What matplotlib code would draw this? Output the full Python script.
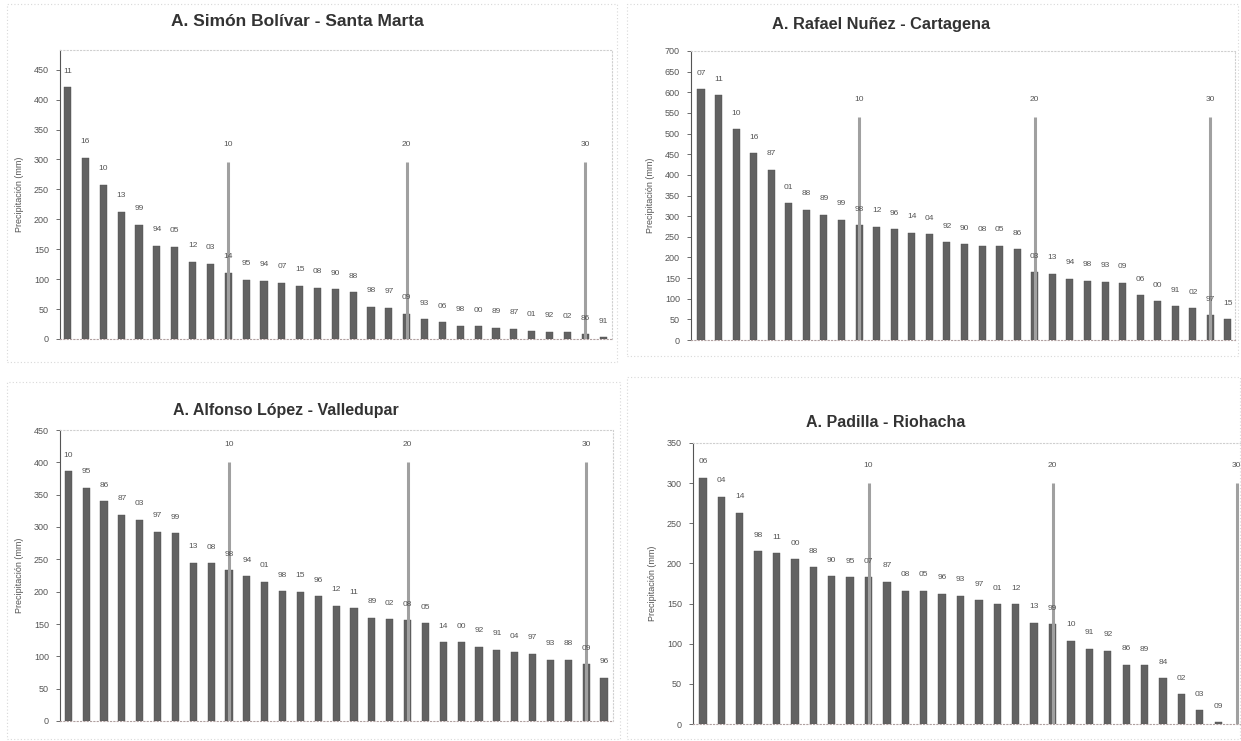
"""
Precipitation ranking by year at four Caribbean airports (Colombia).
"""

import matplotlib
matplotlib.use('Agg')
import matplotlib.pyplot as plt
from matplotlib.patches import Rectangle

plt.rcParams['font.family'] = ['Liberation Sans', 'DejaVu Sans']

# --- data ---
sm_years = ['11', '16', '10', '13', '99', '94', '05', '12', '03', '14', '95', '94', '07', '15', '08', '90',
            '88', '98', '97', '09', '93', '06', '98', '00', '89', '87', '01', '92', '02', '86', '91']
sm_vals = [421, 303, 258, 213, 191, 156, 154, 129, 126, 111, 99, 97, 94, 89, 86, 83,
           78, 54, 52, 42, 33, 28, 22, 21, 19, 17, 14, 12, 11, 8, 3]

ct_years = ['07', '11', '10', '16', '87', '01', '88', '89', '99', '98', '12', '96', '14', '04', '92', '90',
            '08', '05', '86', '03', '13', '94', '98', '93', '09', '06', '00', '91', '02', '97', '15']
ct_vals = [607, 593, 510, 453, 412, 331, 316, 303, 291, 278, 274, 268, 260, 256, 237, 232,
           228, 228, 220, 164, 161, 148, 144, 141, 139, 109, 94, 82, 77, 60, 50]

vd_years = ['10', '95', '86', '87', '03', '97', '99', '13', '08', '98', '94', '01', '98', '15', '96', '12',
            '11', '89', '02', '08', '05', '14', '00', '92', '91', '04', '97', '93', '88', '09', '96']
vd_vals = [386, 361, 340, 319, 311, 293, 290, 245, 244, 233, 224, 215, 201, 200, 193, 178,
           174, 160, 157, 156, 151, 122, 122, 115, 110, 106, 104, 95, 95, 88, 67]

rh_years = ['06', '04', '14', '98', '11', '00', '88', '90', '95', '07', '87', '08', '05', '96', '93',
            '97', '01', '12', '13', '99', '10', '91', '92', '86', '89', '84', '02', '03', '09']
rh_vals = [307, 283, 263, 215, 213, 205, 195, 184, 183, 183, 177, 166, 166, 162, 160,
           154, 149, 149, 126, 124, 104, 94, 91, 74, 73, 57, 37, 17, 2]

ref_pos = [10, 20, 30]
ref_labels = ['10', '20', '30']
ref_height = {'sm': 295, 'ct': 540, 'vd': 400, 'rh': 300}

titles = {'sm': 'A. Simón Bolívar - Santa Marta',
          'ct': 'A. Rafael Nuñez - Cartagena',
          'vd': 'A. Alfonso López - Valledupar',
          'rh': 'A. Padilla - Riohacha'}

W, H = 1241, 741
fig = plt.figure(figsize=(W / 100, H / 100), dpi=100)
fig.patch.set_facecolor('white')


def px_axes(left, top, right, bottom):
    return fig.add_axes([left / W, 1 - bottom / H, (right - left) / W, (bottom - top) / H])


def frame(left, top, right, bottom):
    # faint dotted chart-area border
    fig.add_artist(Rectangle((left / W, 1 - bottom / H), (right - left) / W, (bottom - top) / H,
                             transform=fig.transFigure, fill=False, edgecolor='#d8d8d8',
                             linestyle=(0, (1, 2)), linewidth=0.8))


def panel(ax, years, vals, key, ymax, ystep, xlim, yticks_top):
    x = list(range(1, len(vals) + 1))
    ax.bar(x, vals, width=0.4, color='#626262', edgecolor='#4e4e4e', linewidth=0.3, zorder=2)
    ax.vlines(ref_pos, 0, ref_height[key], color='#a0a0a0', linewidth=2.2, zorder=3)
    for xi, v, yr in zip(x, vals, years):
        ax.annotate(yr, (xi, v), xytext=(0, 11.5), textcoords='offset points',
                    ha='center', va='center', fontsize=6, color='#555555', zorder=4)
    for p, lab in zip(ref_pos, ref_labels):
        ax.annotate(lab, (p, ref_height[key]), xytext=(0, 13), textcoords='offset points',
                    ha='center', va='center', fontsize=6, color='#555555', zorder=4)
    ax.set_xlim(*xlim)
    ax.set_ylim(0, ymax)
    ax.set_yticks(range(0, yticks_top + 1, ystep))
    ax.set_xticks([])
    ax.tick_params(axis='y', labelsize=6.5, colors='#555555', length=3, width=0.6, pad=5)
    ax.set_ylabel('Precipitación (mm)', fontsize=6.5, color='#555555', labelpad=7)
    for s in ['top', 'right']:
        ax.spines[s].set_color('#cfcfcf')
        ax.spines[s].set_linestyle((0, (1, 2)))
        ax.spines[s].set_linewidth(0.8)
    ax.spines['left'].set_color('#555555')
    ax.spines['left'].set_linewidth(0.8)
    ax.spines['bottom'].set_color('#b0a0a0')
    ax.spines['bottom'].set_linestyle((0, (1, 2)))
    ax.spines['bottom'].set_linewidth(0.8)
    ax.set_facecolor('none')


# outer chart borders
frame(7, 4, 617, 362)
frame(627, 4, 1238, 356)
frame(7, 382, 620, 739)
frame(627, 377, 1240, 739)

# Santa Marta
ax1 = px_axes(60, 50, 612, 339)
panel(ax1, sm_years, sm_vals, 'sm', 483, 50, (0.57, 31.5), 450)
fig.text(297 / W, 1 - 22 / H, titles['sm'], ha='center', va='center', fontsize=12.5,
         fontweight='bold', color='#333333')

# Cartagena
ax2 = px_axes(691, 51, 1235, 340)
panel(ax2, ct_years, ct_vals, 'ct', 700, 50, (0.43, 31.4), 700)
fig.text(881 / W, 1 - 24 / H, titles['ct'], ha='center', va='center', fontsize=11.8,
         fontweight='bold', color='#333333')

# Valledupar
ax3 = px_axes(60, 430, 613, 721)
panel(ax3, vd_years, vd_vals, 'vd', 450, 50, (0.535, 31.5), 450)
fig.text(286 / W, 1 - 410 / H, titles['vd'], ha='center', va='center', fontsize=11.5,
         fontweight='bold', color='#333333')

# Riohacha (chart runs past the right edge of the picture)
ax4 = px_axes(693, 443, 1255, 724)
panel(ax4, rh_years, rh_vals, 'rh', 350, 50, (0.46, 31.0), 350)
fig.text(886 / W, 1 - 423 / H, titles['rh'], ha='center', va='center', fontsize=11.5,
         fontweight='bold', color='#333333')

plt.savefig('out.png', dpi=100)
